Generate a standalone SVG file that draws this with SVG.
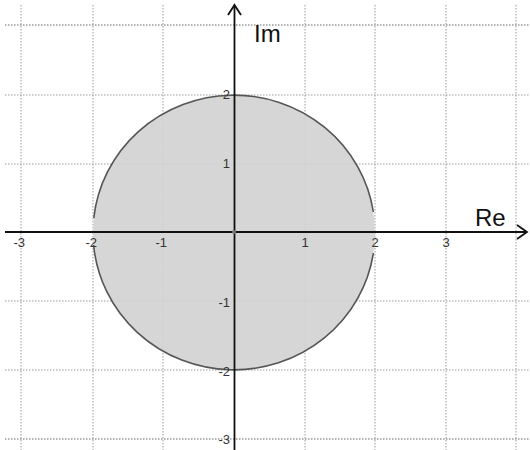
<svg xmlns="http://www.w3.org/2000/svg" width="530" height="450" viewBox="0 0 530 450">
  <style>
    .grid { stroke: #9a9a9a; stroke-width: 1; stroke-dasharray: 1.5 1.5; fill: none; }
    .gridOuter { stroke: #666; stroke-width: 1; stroke-dasharray: 1.5 1.5; fill: none; }
    .axis { stroke: #111; stroke-width: 1.8; fill: none; }
    .tick { font-family: "Liberation Sans", Arial, sans-serif; font-size: 13px; fill: #333; }
    .axlabel { font-family: "Liberation Sans", Arial, sans-serif; font-size: 24px; fill: #111; }
  </style>
  <rect width="530" height="450" fill="#ffffff"/>
  <g id="grid">
    <line class="grid" x1="21" y1="5" x2="21" y2="450"/>
    <line class="grid" x1="93" y1="5" x2="93" y2="450"/>
    <line class="grid" x1="163" y1="5" x2="163" y2="450"/>
    <line class="grid" x1="305" y1="5" x2="305" y2="450"/>
    <line class="grid" x1="375" y1="5" x2="375" y2="450"/>
    <line class="grid" x1="446" y1="5" x2="446" y2="450"/>
    <line class="grid" x1="516" y1="5" x2="516" y2="450"/>
    <line class="gridOuter" x1="5" y1="25" x2="530" y2="25"/>
    <line class="grid" x1="5" y1="95" x2="530" y2="95"/>
    <line class="grid" x1="5" y1="164" x2="530" y2="164"/>
    <line class="grid" x1="5" y1="301" x2="530" y2="301"/>
    <line class="grid" x1="5" y1="370" x2="530" y2="370"/>
    <line class="gridOuter" x1="5" y1="439" x2="530" y2="439"/>
  </g>
  <g id="disk">
    <ellipse cx="234" cy="232.5" rx="141" ry="137.5" fill="#d2d2d2" fill-opacity="0.9"/>
    <path d="M373.4,212 A141,137.5 0 0 0 93.8,218 M93.6,245 A141,137.5 0 0 0 373.4,253" fill="none" stroke="#555" stroke-width="1.6"/>
  </g>
  <g id="axes">
    <line class="axis" x1="5" y1="232" x2="527" y2="232"/>
    <polyline class="axis" points="517,225 527,232 517,239" stroke-width="1.5"/>
    <line class="axis" x1="234.5" y1="5" x2="234.5" y2="450"/>
    <polyline class="axis" points="228,15 234.5,5 241,15" stroke-width="1.5"/>
    <circle cx="234" cy="232" r="2" fill="#777"/>
  </g>
  <g id="labels">
    <text class="axlabel" x="254" y="42">Im</text>
    <text class="axlabel" x="475" y="226">Re</text>
    <text class="tick" x="25" y="247" text-anchor="end">-3</text>
    <text class="tick" x="97" y="247" text-anchor="end">-2</text>
    <text class="tick" x="167" y="247" text-anchor="end">-1</text>
    <text class="tick" x="305" y="247" text-anchor="middle">1</text>
    <text class="tick" x="375" y="247" text-anchor="middle">2</text>
    <text class="tick" x="446" y="247" text-anchor="middle">3</text>
    <text class="tick" x="230" y="99" text-anchor="end">2</text>
    <text class="tick" x="230" y="168" text-anchor="end">1</text>
    <text class="tick" x="230" y="307" text-anchor="end">-1</text>
    <text class="tick" x="230" y="376" text-anchor="end">-2</text>
    <text class="tick" x="230" y="444" text-anchor="end">-3</text>
  </g>
</svg>
